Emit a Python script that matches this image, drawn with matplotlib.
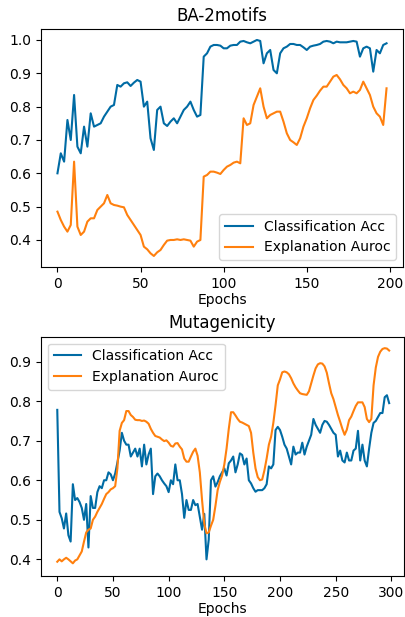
import numpy as np
import matplotlib
matplotlib.use('Agg')
import matplotlib.pyplot as plt

# BA-2motifs, every 2nd epoch
ba_epochs = np.arange(0, 200, 2)
ba_acc = [0.60, 0.66, 0.635, 0.76, 0.70, 0.835, 0.68, 0.66, 0.74, 0.68,
          0.78, 0.74, 0.745, 0.75, 0.77, 0.785, 0.80, 0.805, 0.865, 0.86,
          0.87, 0.873, 0.862, 0.872, 0.88, 0.875, 0.80, 0.815, 0.705, 0.67,
          0.79, 0.80, 0.75, 0.742, 0.755, 0.765, 0.75, 0.77, 0.79, 0.80,
          0.815, 0.79, 0.77, 0.775, 0.95, 0.96, 0.98, 0.985, 0.985, 0.983,
          0.975, 0.975, 0.983, 0.985, 0.985, 0.995, 0.997, 0.993, 0.99, 0.995,
          1.0, 0.997, 0.93, 0.96, 0.97, 0.91, 0.90, 0.96, 0.975, 0.98,
          0.988, 0.988, 0.985, 0.985, 0.978, 0.97, 0.98, 0.983, 0.985, 0.988,
          0.995, 0.997, 0.995, 0.99, 0.995, 0.993, 0.993, 0.993, 0.995, 0.997,
          0.995, 0.95, 0.975, 0.98, 0.975, 0.905, 0.97, 0.96, 0.985, 0.99]
ba_auroc = [0.485, 0.46, 0.44, 0.425, 0.445, 0.635, 0.44, 0.415, 0.425, 0.455,
            0.465, 0.465, 0.49, 0.50, 0.51, 0.535, 0.51, 0.505, 0.503, 0.50,
            0.498, 0.475, 0.46, 0.445, 0.43, 0.415, 0.38, 0.372, 0.36, 0.352,
            0.363, 0.37, 0.385, 0.398, 0.40, 0.40, 0.402, 0.40, 0.402, 0.40,
            0.398, 0.38, 0.395, 0.40, 0.59, 0.595, 0.605, 0.605, 0.602, 0.598,
            0.61, 0.62, 0.625, 0.632, 0.635, 0.63, 0.765, 0.745, 0.75, 0.805,
            0.83, 0.855, 0.80, 0.765, 0.775, 0.78, 0.785, 0.785, 0.755, 0.72,
            0.70, 0.693, 0.685, 0.705, 0.74, 0.765, 0.795, 0.82, 0.833, 0.848,
            0.86, 0.86, 0.875, 0.89, 0.895, 0.882, 0.865, 0.855, 0.84, 0.845,
            0.84, 0.85, 0.875, 0.855, 0.835, 0.80, 0.78, 0.77, 0.745, 0.855]

# Mutagenicity, every 2nd epoch
mu_epochs = np.arange(0, 299, 2)
mu_acc = [0.778, 0.52, 0.504, 0.478, 0.516, 0.461, 0.445, 0.59, 0.55, 0.555,
          0.545, 0.53, 0.50, 0.54, 0.43, 0.56, 0.53, 0.53, 0.57, 0.585,
          0.58, 0.60, 0.60, 0.62, 0.615, 0.60, 0.617, 0.645, 0.675, 0.72,
          0.70, 0.69, 0.69, 0.66, 0.67, 0.68, 0.66, 0.68, 0.635, 0.69,
          0.64, 0.665, 0.68, 0.565, 0.61, 0.617, 0.61, 0.60, 0.592, 0.585,
          0.57, 0.60, 0.59, 0.64, 0.60, 0.60, 0.565, 0.505, 0.55, 0.525,
          0.525, 0.55, 0.537, 0.54, 0.508, 0.475, 0.515, 0.40, 0.45, 0.60,
          0.61, 0.584, 0.595, 0.61, 0.62, 0.63, 0.612, 0.643, 0.65, 0.66,
          0.62, 0.64, 0.668, 0.664, 0.64, 0.655, 0.60, 0.592, 0.58, 0.571,
          0.575, 0.575, 0.575, 0.58, 0.59, 0.635, 0.63, 0.64, 0.727, 0.735,
          0.727, 0.71, 0.69, 0.68, 0.66, 0.64, 0.685, 0.665, 0.67, 0.67,
          0.695, 0.665, 0.685, 0.70, 0.715, 0.755, 0.74, 0.73, 0.72, 0.74,
          0.75, 0.748, 0.74, 0.73, 0.72, 0.715, 0.66, 0.675, 0.65, 0.645,
          0.67, 0.65, 0.65, 0.675, 0.68, 0.725, 0.65, 0.69, 0.65, 0.635,
          0.68, 0.72, 0.745, 0.75, 0.76, 0.77, 0.77, 0.81, 0.815, 0.795]
mu_auroc = [0.394, 0.40, 0.395, 0.40, 0.404, 0.40, 0.395, 0.39, 0.397, 0.40,
            0.41, 0.42, 0.445, 0.468, 0.475, 0.478, 0.50, 0.508, 0.52, 0.53,
            0.54, 0.553, 0.565, 0.57, 0.577, 0.58, 0.585, 0.63, 0.725, 0.745,
            0.752, 0.775, 0.775, 0.765, 0.76, 0.753, 0.752, 0.752, 0.75, 0.751,
            0.748, 0.743, 0.73, 0.72, 0.712, 0.71, 0.708, 0.703, 0.699, 0.701,
            0.695, 0.687, 0.685, 0.693, 0.694, 0.685, 0.678, 0.655, 0.647, 0.647,
            0.66, 0.672, 0.68, 0.662, 0.62, 0.55, 0.49, 0.466, 0.468, 0.485,
            0.50, 0.535, 0.575, 0.596, 0.612, 0.64, 0.68, 0.73, 0.772, 0.772,
            0.764, 0.755, 0.748, 0.746, 0.743, 0.74, 0.737, 0.72, 0.67, 0.63,
            0.608, 0.60, 0.602, 0.625, 0.655, 0.69, 0.71, 0.745, 0.79, 0.84,
            0.855, 0.873, 0.875, 0.873, 0.868, 0.858, 0.845, 0.835, 0.827, 0.82,
            0.818, 0.817, 0.816, 0.825, 0.845, 0.865, 0.883, 0.893, 0.896, 0.895,
            0.888, 0.872, 0.845, 0.82, 0.805, 0.785, 0.765, 0.748, 0.73, 0.715,
            0.728, 0.752, 0.761, 0.775, 0.788, 0.797, 0.797, 0.797, 0.785, 0.755,
            0.747, 0.755, 0.84, 0.885, 0.912, 0.925, 0.932, 0.934, 0.933, 0.928]

blue = '#006BA4'
orange = '#FF800E'

fig = plt.figure(figsize=(4.06, 6.17), dpi=100)

ax1 = fig.add_axes([0.101, 0.5673, 0.8916, 0.3852])
ax1.plot(ba_epochs, ba_acc, color=blue, lw=1.5, label='Classification Acc')
ax1.plot(ba_epochs, ba_auroc, color=orange, lw=1.5, label='Explanation Auroc')
ax1.set_xlim(-9.9, 207.9)
ax1.set_ylim(0.319, 1.032)
ax1.set_title('BA-2motifs')
ax1.set_xlabel('Epochs', labelpad=2)
ax1.legend(loc='lower right')

ax2 = fig.add_axes([0.101, 0.0665, 0.894, 0.3878])
ax2.plot(mu_epochs, mu_acc, color=blue, lw=1.5, label='Classification Acc')
ax2.plot(mu_epochs, mu_auroc, color=orange, lw=1.5, label='Explanation Auroc')
ax2.set_xlim(-14.6, 311.3)
ax2.set_ylim(0.358, 0.963)
ax2.set_title('Mutagenicity')
ax2.set_xlabel('Epochs', labelpad=2)
ax2.legend(loc='upper left')

fig.savefig('out.png', dpi=100)
